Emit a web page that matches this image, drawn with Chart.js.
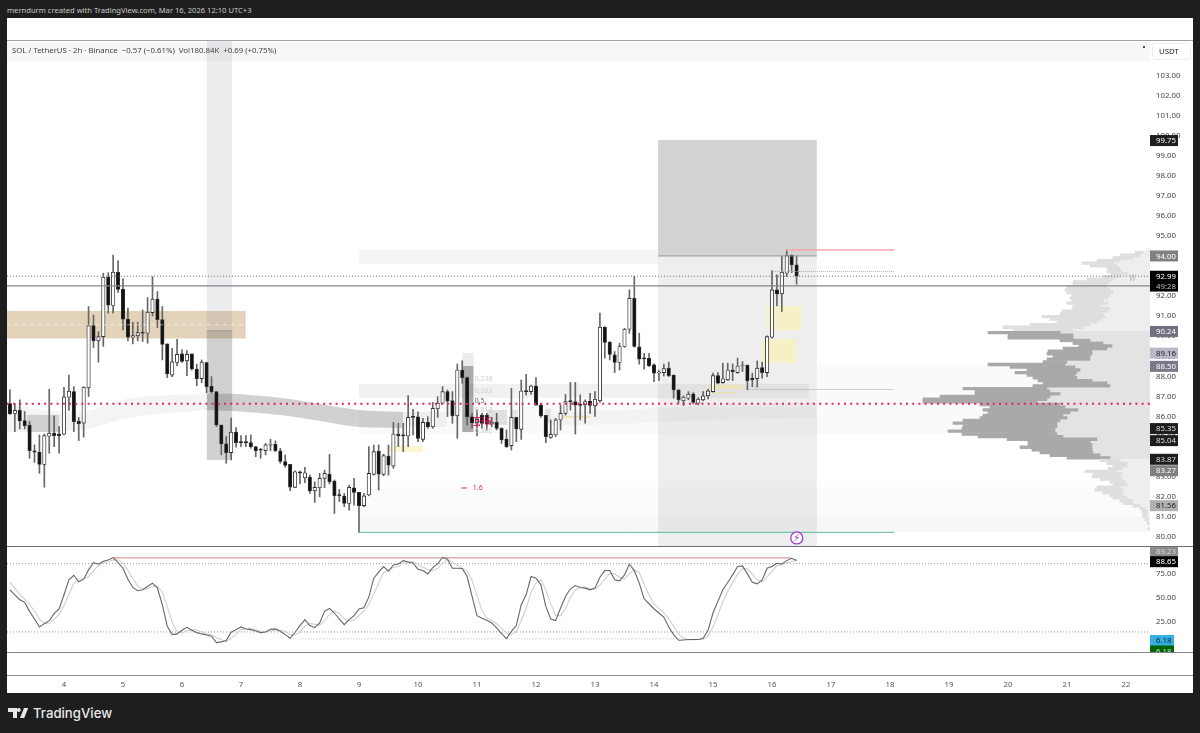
<!DOCTYPE html>
<html>
<head>
<meta charset="utf-8">
<title>SOL / TetherUS</title>
<script src="https://cdn.jsdelivr.net/npm/chart.js@4/dist/chart.umd.min.js"></script>
<style>
html, body { margin: 0; padding: 0; background: #1e1e1e; width: 1200px; height: 733px; overflow: hidden; }
div, canvas, svg { position: absolute; }
body { font-family: "Noto Sans", sans-serif; }
#panel { left: 7px; top: 18px; width: 1186px; height: 675px; background: #fff; }
#strip { left: 7px; top: 42px; width: 1143px; height: 19px; background: #f7f7f7; }
#mainChart { left: 7px; top: 41px; }
#stochChart { left: 7px; top: 547px; }
.rule { left: 7px; width: 1186px; height: 1px; }
#credit { left: 7px; top: 4px; color: #c8c8c8; font-size: 7.6px; line-height: 12px; white-space: nowrap; }
#legend { left: 12px; top: 44px; color: #444; font-size: 7.8px; line-height: 12px; white-space: pre; }
#usdt { left: 1152px; top: 43px; width: 39px; height: 17px; border: 1px solid #eee; border-radius: 3px; box-sizing: border-box; color: #222; font-size: 7.8px; line-height: 15px; padding-left: 6px; }
#dot { left: 1143px; top: 46px; width: 1.5px; height: 1.5px; background: #555; }
#logoText { left: 33px; top: 704px; color: #e8e8e8; font-family: Inter, sans-serif; font-size: 13.2px; font-weight: 500; line-height: 18px; white-space: nowrap; }
</style>
</head>
<body>
<div id="panel"></div>
<div id="strip"></div>
<canvas id="mainChart" width="1186" height="506"></canvas>
<canvas id="stochChart" width="1186" height="146"></canvas>
<div class="rule" style="top:40px;background:#a2a2aa"></div>
<div class="rule" style="top:546px;background:#6c6c76"></div>
<div class="rule" style="top:652px;background:#85858f"></div>
<div class="rule" style="top:675px;background:#8f8f99"></div>
<div id="credit">merndurm created with TradingView.com, Mar 16, 2026 12:10 UTC+3</div>
<div id="legend">SOL / TetherUS · 2h · Binance  −0.57 (−0.61%)  Vol180.84K  +0.69 (+0.75%)</div>
<div id="usdt">USDT</div>
<div id="dot"></div>
<svg style="left:0;top:700px" width="34" height="24">
  <polygon fill="#e8e8e8" points="8,8 17,8 17,18 13,18 13,12 8,12"/>
  <circle fill="#e8e8e8" cx="18.8" cy="10" r="2"/>
  <polygon fill="#e8e8e8" points="20,18 24,8 28.2,8 24.2,18"/>
</svg>
<div id="logoText">TradingView</div>

<script>
// candles, 2h each, oldest first
const opens = [
  86.65,86.15,86.31,85.80,85.57,84.29,84.22,83.61,85.02,85.17,
  85.12,85.12,86.96,87.24,85.77,85.67,87.43,90.53,89.77,89.98,
  92.94,91.53,93.19,92.34,90.85,89.95,90.02,90.18,90.15,91.18,
  91.85,90.83,89.62,88.06,88.69,89.12,88.77,89.12,88.37,87.89,
  88.69,87.51,87.24,85.58,84.64,84.20,85.22,84.74,84.72,84.70,
  84.50,84.34,84.30,84.57,84.62,84.29,83.76,83.62,82.47,83.22,
  82.95,82.98,82.30,82.45,82.92,83.13,82.78,82.09,82.04,81.67,
  82.45,82.22,81.56,82.09,83.12,84.28,83.12,84.03,83.53,85.13,
  85.08,85.03,85.99,85.99,84.86,85.71,85.49,86.39,86.66,87.24,
  86.79,86.03,88.32,87.94,85.99,85.69,86.07,86.07,85.63,85.71,
  85.41,84.88,84.55,85.96,85.36,87.27,87.24,87.52,86.57,86.06,
  84.96,85.08,85.83,86.16,86.77,86.74,86.60,86.58,86.76,86.53,
  86.78,90.45,89.70,89.07,88.69,89.49,90.35,91.89,89.47,88.90,
  88.90,88.57,88.16,88.19,88.41,88.07,87.33,86.78,86.91,87.13,
  86.66,86.83,87.03,87.24,88.04,87.69,87.83,88.32,88.19,88.52,
  88.56,87.91,87.89,88.44,88.19,89.95,92.31,92.11,93.14,94.04,93.56
];
const highs = [
  87.33,86.66,86.83,86.25,85.75,84.59,85.08,85.13,87.36,86.03,
  85.50,87.46,88.07,87.49,85.95,87.49,91.48,91.06,90.23,93.14,
  93.17,94.05,93.76,92.86,91.40,90.70,90.70,91.31,91.93,92.97,
  92.23,91.48,89.62,89.40,89.85,89.32,89.29,89.12,88.61,88.82,
  88.71,87.99,87.24,85.58,85.00,85.92,85.45,85.05,85.05,85.08,
  84.50,84.42,84.67,84.87,84.79,84.42,84.09,83.62,83.30,83.28,
  83.47,83.09,82.75,83.17,83.33,84.11,82.84,82.37,82.17,82.59,
  82.92,82.22,82.17,84.50,84.58,84.58,84.13,84.58,85.71,85.66,
  85.66,87.04,86.36,86.24,85.91,85.99,86.71,86.99,87.49,87.32,
  87.24,88.62,88.78,87.98,86.16,86.32,86.16,86.16,85.96,86.16,
  85.44,85.33,87.40,85.96,87.82,88.10,87.57,87.94,86.62,86.06,
  85.83,85.91,86.57,87.10,87.70,87.70,87.08,86.83,87.16,87.24,
  91.15,90.48,89.74,89.24,89.65,90.40,92.31,93.00,90.15,89.15,
  89.15,88.62,88.32,88.61,88.71,88.07,87.33,87.03,87.24,87.19,
  86.95,87.24,87.36,88.16,88.19,88.66,88.66,88.62,88.91,88.74,
  88.57,88.16,88.77,88.71,90.02,93.26,93.06,94.00,94.30,94.05,94.00
];
const lows = [
  86.11,85.25,85.38,85.38,83.92,83.71,83.17,82.48,84.17,84.50,
  84.17,85.08,86.30,85.25,84.80,84.97,87.00,89.44,88.71,89.49,
  91.15,91.15,92.18,90.32,89.77,89.62,89.77,89.74,89.65,91.01,
  90.43,88.82,87.94,87.99,88.52,88.69,88.04,88.32,87.53,87.69,
  87.19,87.16,85.50,84.09,83.67,83.84,84.47,84.50,84.50,84.42,
  84.00,83.92,84.09,84.30,84.25,83.67,83.47,82.31,82.45,82.64,
  82.70,82.17,81.72,82.00,82.45,82.64,81.17,81.76,81.51,81.34,
  81.59,80.23,81.51,82.05,83.08,82.34,83.05,83.08,83.42,84.50,
  84.25,84.50,85.08,84.75,84.75,85.41,85.41,85.96,86.62,86.00,
  85.66,84.91,87.65,85.58,85.41,85.03,85.41,85.33,85.49,85.33,
  84.66,84.46,84.33,84.75,84.86,87.07,87.10,86.57,85.96,84.70,
  84.91,85.00,85.33,86.07,86.32,85.13,85.83,85.67,86.16,86.00,
  86.70,88.91,88.82,88.19,88.32,89.45,90.15,89.45,88.61,88.36,
  88.49,87.74,87.79,88.02,87.99,86.91,86.66,86.55,86.83,86.63,
  86.58,86.78,86.88,87.21,87.63,87.66,87.79,87.79,88.16,88.24,
  87.33,87.49,87.46,87.91,87.99,89.90,91.51,91.23,92.97,93.17,92.59
];
const closes = [
  86.13,86.31,85.78,85.55,84.30,84.22,83.61,85.05,85.17,85.05,
  85.05,86.98,87.26,85.75,85.65,87.46,90.53,89.77,89.98,92.94,
  91.55,93.19,92.33,90.85,89.95,90.03,90.18,90.15,91.20,91.85,
  90.82,89.59,88.12,88.72,89.10,88.74,89.10,88.37,87.89,88.71,
  87.49,87.23,85.58,84.64,84.20,85.22,84.70,84.70,84.70,84.50,
  84.30,84.32,84.59,84.62,84.30,83.76,83.56,82.48,83.25,83.19,
  83.20,82.29,82.47,82.92,83.17,82.75,82.06,82.06,81.67,82.47,
  82.22,81.56,82.05,83.17,84.25,83.13,84.05,83.58,85.13,85.04,
  85.04,85.96,85.96,84.91,85.71,85.49,86.41,86.66,87.24,86.77,
  86.03,88.32,87.94,85.99,85.69,85.86,85.66,85.63,85.71,85.41,
  84.83,84.50,85.96,85.38,87.27,87.24,87.52,86.57,86.03,85.00,
  85.11,85.83,86.16,86.74,86.74,86.57,86.56,86.75,86.55,86.86,
  90.45,89.69,89.10,88.69,89.49,90.35,91.89,89.49,88.86,88.87,
  88.54,88.16,88.22,88.39,88.04,87.33,86.83,86.95,87.11,86.70,
  86.86,87.03,87.28,88.04,87.66,87.88,88.32,88.24,88.52,88.56,
  87.79,87.83,88.41,88.19,89.98,92.31,92.11,93.19,94.02,93.56,92.99
];

// stochastic RSI, same candles
const stochK = [
  58.2,53.1,48.0,45.3,36.1,28.3,20.1,23.5,26.6,33.7,
  38.5,53.1,68.4,73.1,66.4,69.1,78.6,86.1,84.4,87.4,
  88.8,91.2,86.1,80.3,69.1,60.6,57.2,58.2,61.6,65.0,
  59.9,42.9,20.8,12.3,13.0,16.7,19.8,16.7,14.3,13.0,
  11.9,10.6,4.1,4.8,6.2,14.7,17.4,20.1,18.1,17.4,
  16.0,14.3,15.0,17.7,18.1,15.7,12.3,8.5,14.7,21.5,
  27.6,21.5,19.4,24.2,36.1,39.1,34.4,28.3,22.5,27.6,
  31.7,38.5,39.8,50.7,70.1,76.2,82.0,77.2,83.7,84.7,
  88.1,86.7,85.4,79.3,77.9,74.5,81.0,84.7,91.5,89.5,
  80.3,80.3,80.0,71.8,51.4,31.7,29.0,26.9,24.2,19.1,
  13.3,8.2,15.7,21.5,42.9,53.1,71.8,70.1,63.3,41.2,
  28.3,26.6,39.5,51.4,59.2,62.6,60.6,59.9,58.2,59.9,
  71.1,77.9,77.9,68.4,67.4,73.5,84.4,77.9,65.0,49.0,
  43.9,38.8,34.4,30.3,20.1,12.3,6.5,6.8,7.2,7.2,
  7.2,8.5,16.7,34.4,46.3,58.2,65.7,73.5,82.0,82.7,
  74.5,66.0,64.3,68.4,80.3,82.0,85.4,84.7,88.1,90.5,88.1
];
const stochD = [
  66.0,60.0,53.1,48.8,43.1,36.6,28.2,24.0,23.4,28.0,
  33.0,42.0,53.3,65.0,69.3,69.3,71.6,77.9,82.9,85.9,
  86.7,89.0,88.7,85.6,78.0,70.0,62.0,59.0,59.0,61.6,
  62.0,56.0,41.0,25.0,15.0,14.0,16.5,17.5,17.0,15.0,
  13.0,12.0,9.0,7.0,5.0,8.5,12.8,17.4,18.5,18.5,
  17.2,16.0,15.0,16.0,17.0,17.0,15.5,12.0,12.0,15.0,
  21.0,23.5,23.0,22.0,26.6,33.0,36.5,34.0,28.5,26.0,
  27.0,32.0,36.5,43.0,54.0,65.0,76.0,78.5,81.0,82.0,
  85.5,86.5,87.0,84.0,81.3,79.0,78.0,80.0,85.8,88.6,
  87.0,83.4,80.2,77.3,68.0,52.0,37.4,29.2,26.7,23.4,
  18.9,13.7,12.4,15.1,26.7,39.0,56.0,65.0,68.4,58.0,
  44.0,32.0,31.5,39.0,50.0,58.0,60.8,61.0,59.6,59.0,
  63.0,69.0,75.0,74.5,71.0,69.5,75.0,78.6,76.0,64.0,
  52.6,44.0,39.0,34.5,28.3,21.0,13.0,8.5,6.8,7.0,
  7.2,7.6,10.8,20.0,32.5,46.0,56.7,65.8,74.0,80.0,
  79.7,74.5,68.5,66.0,71.5,77.0,83.0,84.0,86.0,87.0,88.6
];

// volume profile, one row per price level
const profilePrices = [
  94.30,94.17,94.04,93.90,93.77,93.64,93.51,93.37,93.24,93.11,
  92.97,92.84,92.71,92.58,92.44,92.31,92.18,92.04,91.91,91.78,
  91.65,91.51,91.38,91.25,91.11,90.98,90.85,90.72,90.58,90.45,
  90.32,90.18,90.05,89.92,89.79,89.65,89.52,89.39,89.25,89.12,
  88.99,88.86,88.72,88.59,88.46,88.32,88.19,88.06,87.93,87.79,
  87.66,87.53,87.39,87.26,87.13,87.00,86.86,86.73,86.60,86.46,
  86.33,86.20,86.06,85.93,85.80,85.67,85.53,85.40,85.27,85.13,
  85.00,84.87,84.74,84.60,84.47,84.34,84.20,84.07,83.94,83.81,
  83.67,83.54,83.41,83.27,83.14,83.01,82.88,82.74,82.61,82.48,
  82.34,82.21,82.08,81.95,81.81,81.68,81.55,81.41,81.28,81.15,
  81.02,80.88,80.68,80.42
];
const profileTotal = [
  2,15,30,37,53,68,60,43,43,40,
  47,63,77,77,83,85,83,78,80,78,
  83,77,78,88,90,108,100,93,120,147,
  137,162,142,142,90,77,71,87,102,103,
  97,103,107,162,140,123,135,123,117,112,
  107,117,187,175,175,210,227,227,170,160,
  167,162,167,170,187,197,187,188,202,188,
  172,143,122,122,130,118,110,100,83,50,
  43,37,42,65,57,58,50,40,37,53,
  55,47,40,37,30,27,17,10,8,7,
  7,5,3,2
];
const profileInner = [
  2,7,10,17,30,37,33,30,28,23,
  30,37,40,43,43,40,37,40,42,47,
  42,50,40,43,47,45,48,53,60,67,
  77,90,77,77,60,47,38,43,58,58,
  60,60,83,85,75,70,73,75,73,58,
  43,40,103,100,90,100,103,113,90,85,
  72,80,87,83,90,93,93,95,95,93,
  87,53,60,58,58,58,57,50,40,30,
  23,23,28,33,28,30,28,25,23,30,
  27,28,27,23,17,17,10,5,3,3,
  3,2,1,1
];

const priceTicks = [80,81,82,83,84,85,86,87,88,89,90,91,92,93,94,95,96,97,98,99,100,101,102,103];
const stochTicks = [25,50,75];
const dayTicks = [4,5,6,7,8,9,10,11,12,13,14,15,16,17,18,19,20,21,22];

// shaded boxes: day from, day to, price low, price high
const zoneRows = [
  [9, 22.407, 85.13, 86.48, 'rgba(120,120,120,.035)'],
  [16.76, 22.407, 86.48, 88.57, 'rgba(120,120,120,.035)'],
  [9, 22.407, 80.23, 82.49, 'rgba(120,120,120,.03)'],
  [9, 22.407, 80.23, 81.0, 'rgba(120,120,120,.03)'],
  [9, 14.07, 93.6, 94.3, 'rgba(120,120,120,.08)'],
  [9, 16.62, 86.93, 87.63, 'rgba(120,120,120,.1)'],
  [14.07, 16.76, 94.0, 99.78, 'rgba(120,120,120,.33)'],
  [14.07, 16.76, 79.5, 94.0, 'rgba(120,120,120,.125)'],
  [3.034, 7.08, 89.89, 91.26, 'rgba(193,157,104,.45)'],
  [6.42, 6.85, 90.27, 104.71, 'rgba(128,128,140,.15)'],
  [6.42, 6.85, 83.84, 90.27, 'rgba(90,90,90,.28)'],
  [3.37, 3.92, 85.23, 86.08, 'rgba(120,120,120,.28)'],
  [10.75, 10.94, 85.23, 88.52, 'rgba(70,70,70,.45)'],
  [10.75, 10.94, 88.52, 89.17, 'rgba(120,120,120,.15)'],
  [9.75, 10.49, 85.48, 86.23, 'rgba(120,120,120,.08)'],
  [11.17, 11.51, 85.58, 86.33, 'rgba(120,120,120,.2)'],
  [11.59, 11.69, 85.58, 86.33, 'rgba(120,120,120,.15)'],
  [12.15, 12.25, 85.68, 86.38, 'rgba(120,120,120,.2)'],
  [15.91, 16.50, 90.31, 91.51, 'rgba(247,240,190,.85)'],
  [15.82, 16.42, 88.68, 89.85, 'rgba(247,240,190,.85)'],
  [9.49, 10.08, 84.24, 84.53, 'rgba(250,244,190,.8)'],
  [14.92, 15.51, 87.37, 87.57, 'rgba(240,225,150,.6)'],
  [14.92, 15.42, 87.15, 87.22, 'rgba(240,225,150,.6)'],
  [12.41, 12.92, 85.93, 86.03, 'rgba(240,225,150,.6)']
];

// moving average ribbons
const ribbonLightDays = [3.034, 4.27, 5.17, 6.42];
const ribbonLightHigh = [86.58, 86.23, 86.93, 87.13];
const ribbonLightLow = [85.23, 85.33, 85.98, 86.33];
const ribbonGreyDays = [6.42, 6.85, 7.66, 8.34, 9.0, 9.75];
const ribbonGreyHigh = [87.13, 87.13, 86.93, 86.63, 86.33, 86.23];
const ribbonGreyLow = [86.33, 86.28, 86.08, 85.78, 85.48, 85.43];
const ribbonPaleDays = [12.25, 13.5, 14.07, 15.0, 16.76];
const ribbonPaleHigh = [86.23, 86.33, 86.43, 86.58, 86.73];
const ribbonPaleLow = [85.53, 85.63, 85.73, 85.83, 85.93];

// level lines: day from, day to, price, colour, width, dash
const levelRows = [
  [3.034, 22.407, 92.51, '#85858f', 1.2, []],
  [3.034, 22.407, 92.99, '#777', 1, [1, 2]],
  [3.034, 22.407, 86.64, '#e91e63', 2, [2, 4.2]],
  [16.24, 18.07, 94.30, '#f5a5ac', 1.5, []],
  [9, 18.07, 80.23, '#55bca8', 1, []],
  [16.02, 18.07, 93.23, '#aaa', 1, [1, 1]],
  [15.59, 18.07, 87.35, '#aaa', 1, [1, 1]],
  [14.07, 16.76, 94.0, '#999', 1, []],
  [6.42, 6.85, 90.27, '#999', 1, []],
  [3.034, 7.08, 90.57, 'rgba(255,255,255,.5)', 1, [4, 4]],
  [10.94, 11.05, 85.95, '#e91e63', 1, []],
  [10.94, 11.05, 85.55, '#e91e63', 1, []],
  [10.74, 10.83, 82.44, '#e91e63', 1, []]
];
const stochLevelRows = [
  [3.034, 22.407, 85, '#999', 1, [1, 2]],
  [3.034, 22.407, 15, '#999', 1, [1, 2]],
  [4.84, 16.32, 91, 'rgba(200,120,120,.7)', 1.2, []],
  [7.85, 14.44, 8, 'rgba(150,200,150,.55)', 1, [1, 1]]
];

// fib labels on the chart: day, price, text, colour
const noteRows = [
  [10.96, 87.87, '0.236', '#d0d0d0'],
  [10.96, 87.27, '0.382', '#d0d0d0'],
  [10.96, 86.79, '0.5', '#666'],
  [10.96, 86.33, '0.618', '#d0d0d0'],
  [10.96, 85.83, '0.702', '#e91e63'],
  [10.96, 85.68, '0.786', '#e91e63'],
  [10.96, 85.28, '0.886', '#d0d0d0'],
  [10.93, 82.44, '1.6', '#e91e63'],
  [22.05, 92.87, 'W', '#b4b4b4']
];

// tags on the price axis: where it sits, text, background, text colour
const priceTags = [
  [99.75, '99.75', '#1e1e1e', '#fff'],
  [94.00, '94.00', '#808080', '#fff'],
  [92.99, '92.99', '#000', '#fff'],
  [92.50, '49:28', '#000', '#bbb'],
  [90.24, '90.24', '#6f7080', '#fff'],
  [89.16, '89.16', '#b8b8c8', '#222'],
  [88.50, '88.50', '#787888', '#fff'],
  [85.40, '85.35', '#1e1e1e', '#ddd'],
  [84.80, '85.04', '#1e1e1e', '#ddd'],
  [83.87, '83.87', '#1e1e1e', '#ddd'],
  [83.30, '83.27', '#808080', '#fff'],
  [81.56, '81.56', '#b0b0b0', '#222']
];
const stochTags = [
  [97.6, '89.23', '#8c8c8c', '#d8d8d8'],
  [87.0, '88.65', '#000', '#fff'],
  [6.2, '6.18', '#35aee2', '#123'],
  [-4.5, '6.18', '#006400', '#cde']
];

const startDay = 3;
const candleDays = opens.map((o, i) => startDay + (i + 1) / 12);
const profileRight = 22.407;
const profileUnit = 1 / 59;
const fontName = '"Noto Sans", sans-serif';

function levelDataset(row) {
  return {
    type: 'line',
    data: [{ x: row[0], y: row[2] }, { x: row[1], y: row[2] }],
    borderColor: row[3], borderWidth: row[4], borderDash: row[5],
    pointRadius: 0, fill: false, order: 2
  };
}

function ribbonDatasets(days, high, low, color) {
  return [
    { type: 'line', data: days.map((d, i) => ({ x: d, y: high[i] })), borderWidth: 0, pointRadius: 0, tension: 0.3, fill: '+1', backgroundColor: color, order: 9 },
    { type: 'line', data: days.map((d, i) => ({ x: d, y: low[i] })), borderWidth: 0, pointRadius: 0, tension: 0.3, fill: false, order: 9 }
  ];
}

function inValueArea(price) { return price < 90.25 && price > 83.84; }

function drawTag(ctx, left, y, text, bg, fg) {
  ctx.fillStyle = bg;
  ctx.fillRect(left, y - 5.5, text.length < 5 ? 24 : 28, 11);
  ctx.fillStyle = fg;
  ctx.font = '7.8px ' + fontName;
  ctx.textAlign = 'left';
  ctx.textBaseline = 'middle';
  ctx.fillText(text, left + 6, y + 0.5);
}

const zonePlugin = {
  id: 'zones',
  beforeDatasetsDraw(chart) {
    const { ctx, scales: { x, y } } = chart;
    zoneRows.forEach(r => {
      ctx.fillStyle = r[4];
      const px0 = x.getPixelForValue(r[0]), px1 = x.getPixelForValue(r[1]);
      const py0 = y.getPixelForValue(r[3]), py1 = y.getPixelForValue(r[2]);
      ctx.fillRect(px0, py0, px1 - px0, py1 - py0);
    });
  }
};

const notePlugin = {
  id: 'notes',
  afterDraw(chart) {
    const { ctx, scales: { x, y } } = chart;
    ctx.save();
    noteRows.forEach(r => {
      ctx.fillStyle = r[3];
      ctx.font = (r[2] === 'W' ? 'italic 8px ' : '7px ') + fontName;
      ctx.textAlign = 'left';
      ctx.textBaseline = 'middle';
      ctx.fillText(r[2], x.getPixelForValue(r[0]), y.getPixelForValue(r[1]));
    });
    // alert icon under the last candles
    const bx = x.getPixelForValue(16.42), by = y.getPixelForValue(79.95);
    ctx.beginPath();
    ctx.arc(bx, by, 6, 0, Math.PI * 2);
    ctx.fillStyle = '#fff';
    ctx.fill();
    ctx.lineWidth = 1.3;
    ctx.strokeStyle = '#a23cc8';
    ctx.stroke();
    ctx.fillStyle = '#a23cc8';
    ctx.font = '10px "DejaVu Sans"';
    ctx.textAlign = 'center';
    ctx.fillText('\u26A1', bx, by + 0.5);
    priceTags.forEach(t => drawTag(ctx, x.right, y.getPixelForValue(t[0]), t[1], t[2], t[3]));
    ctx.restore();
  }
};

const stochTagPlugin = {
  id: 'stochTags',
  afterDraw(chart) {
    const { ctx, scales: { x, y } } = chart;
    ctx.save();
    ctx.beginPath();
    ctx.rect(x.left, y.top, chart.width, y.bottom - y.top);
    ctx.clip();
    stochTags.forEach(t => drawTag(ctx, x.right, y.getPixelForValue(t[0]), t[1], t[2], t[3]));
    ctx.restore();
  }
};

const priceScaleOpts = {
  type: 'linear', position: 'right', offset: false,
  grid: { display: false, drawTicks: false }, border: { display: false },
  // no extra room for the end labels, plot has to fill the canvas
  afterFit: s => { s.width = 43; s.paddingTop = 0; s.paddingBottom = 0; },
  ticks: { color: '#444', font: { family: fontName, size: 7.8 }, padding: 6, autoSkip: false, callback: v => v.toFixed(2) }
};

const mainChart = new Chart(document.getElementById('mainChart'), {
  type: 'bar',
  data: {
    datasets: [
      ...levelRows.map(levelDataset),
      ...ribbonDatasets(ribbonLightDays, ribbonLightHigh, ribbonLightLow, 'rgba(120,120,120,.08)'),
      ...ribbonDatasets(ribbonGreyDays, ribbonGreyHigh, ribbonGreyLow, 'rgba(90,90,90,.28)'),
      ...ribbonDatasets(ribbonPaleDays, ribbonPaleHigh, ribbonPaleLow, 'rgba(120,120,120,.05)'),
      {
        indexAxis: 'y', grouped: false, order: 8, barThickness: 2.7,
        data: profilePrices.map((p, i) => ({ y: p, x: [profileRight - profileTotal[i] * profileUnit, profileRight - profileInner[i] * profileUnit] })),
        backgroundColor: ctx => (ctx.raw && inValueArea(ctx.raw.y)) ? '#a9a9a9' : '#dedede'
      },
      {
        indexAxis: 'y', grouped: false, order: 8, barThickness: 2.7,
        data: profilePrices.map((p, i) => ({ y: p, x: [profileRight - profileInner[i] * profileUnit, profileRight] })),
        backgroundColor: ctx => (ctx.raw && inValueArea(ctx.raw.y)) ? '#e3e3e3' : '#eeeeee'
      },
      {
        grouped: false, order: 4, barThickness: 1,
        data: candleDays.map((d, i) => ({ x: d, y: [lows[i], highs[i]] })),
        backgroundColor: '#666'
      },
      {
        grouped: false, order: 3, barThickness: 3.5, minBarLength: 1,
        data: candleDays.map((d, i) => ({ x: d, y: [opens[i], closes[i]] })),
        backgroundColor: opens.map((o, i) => closes[i] >= o ? '#fff' : '#111'),
        borderColor: '#333', borderWidth: 0.9, borderSkipped: false
      }
    ]
  },
  options: {
    responsive: false, animation: false,
    events: [],
    layout: { padding: 0, autoPadding: false },
    plugins: { legend: { display: false }, tooltip: { enabled: false }, title: { display: false } },
    scales: {
      x: { type: 'linear', min: 3.034, max: 22.407, offset: false, display: false, grid: { display: false } },
      y: {
        ...priceScaleOpts, min: 79.5, max: 104.71,
        afterBuildTicks: s => { s.ticks = priceTicks.map(v => ({ value: v })); }
      }
    }
  },
  plugins: [zonePlugin, notePlugin]
});

const stochChart = new Chart(document.getElementById('stochChart'), {
  type: 'line',
  data: {
    datasets: [
      ...stochLevelRows.map(levelDataset),
      { data: candleDays.map((d, i) => ({ x: d, y: stochD[i] })), borderColor: '#cfcfcf', borderWidth: 1.1, pointRadius: 0, fill: false, order: 1 },
      { data: candleDays.map((d, i) => ({ x: d, y: stochK[i] })), borderColor: '#666', borderWidth: 1.1, pointRadius: 0, fill: false, order: 0 }
    ]
  },
  options: {
    responsive: false, animation: false,
    events: [],
    layout: { padding: 0, autoPadding: false },
    plugins: { legend: { display: false }, tooltip: { enabled: false }, title: { display: false } },
    scales: {
      x: {
        type: 'linear', min: 3.034, max: 22.407, offset: false,
        grid: { display: false }, border: { display: false },
        afterFit: s => { s.height = 40.5; },
        afterBuildTicks: s => { s.ticks = dayTicks.map(v => ({ value: v })); },
        ticks: { color: '#555', font: { family: fontName, size: 7.8 }, padding: 20, autoSkip: false, maxRotation: 0, callback: v => String(v) }
      },
      y: {
        ...priceScaleOpts, min: -6.05, max: 102.05,
        afterBuildTicks: s => { s.ticks = stochTicks.map(v => ({ value: v })); }
      }
    }
  },
  plugins: [stochTagPlugin]
});
</script>
</body>
</html>
